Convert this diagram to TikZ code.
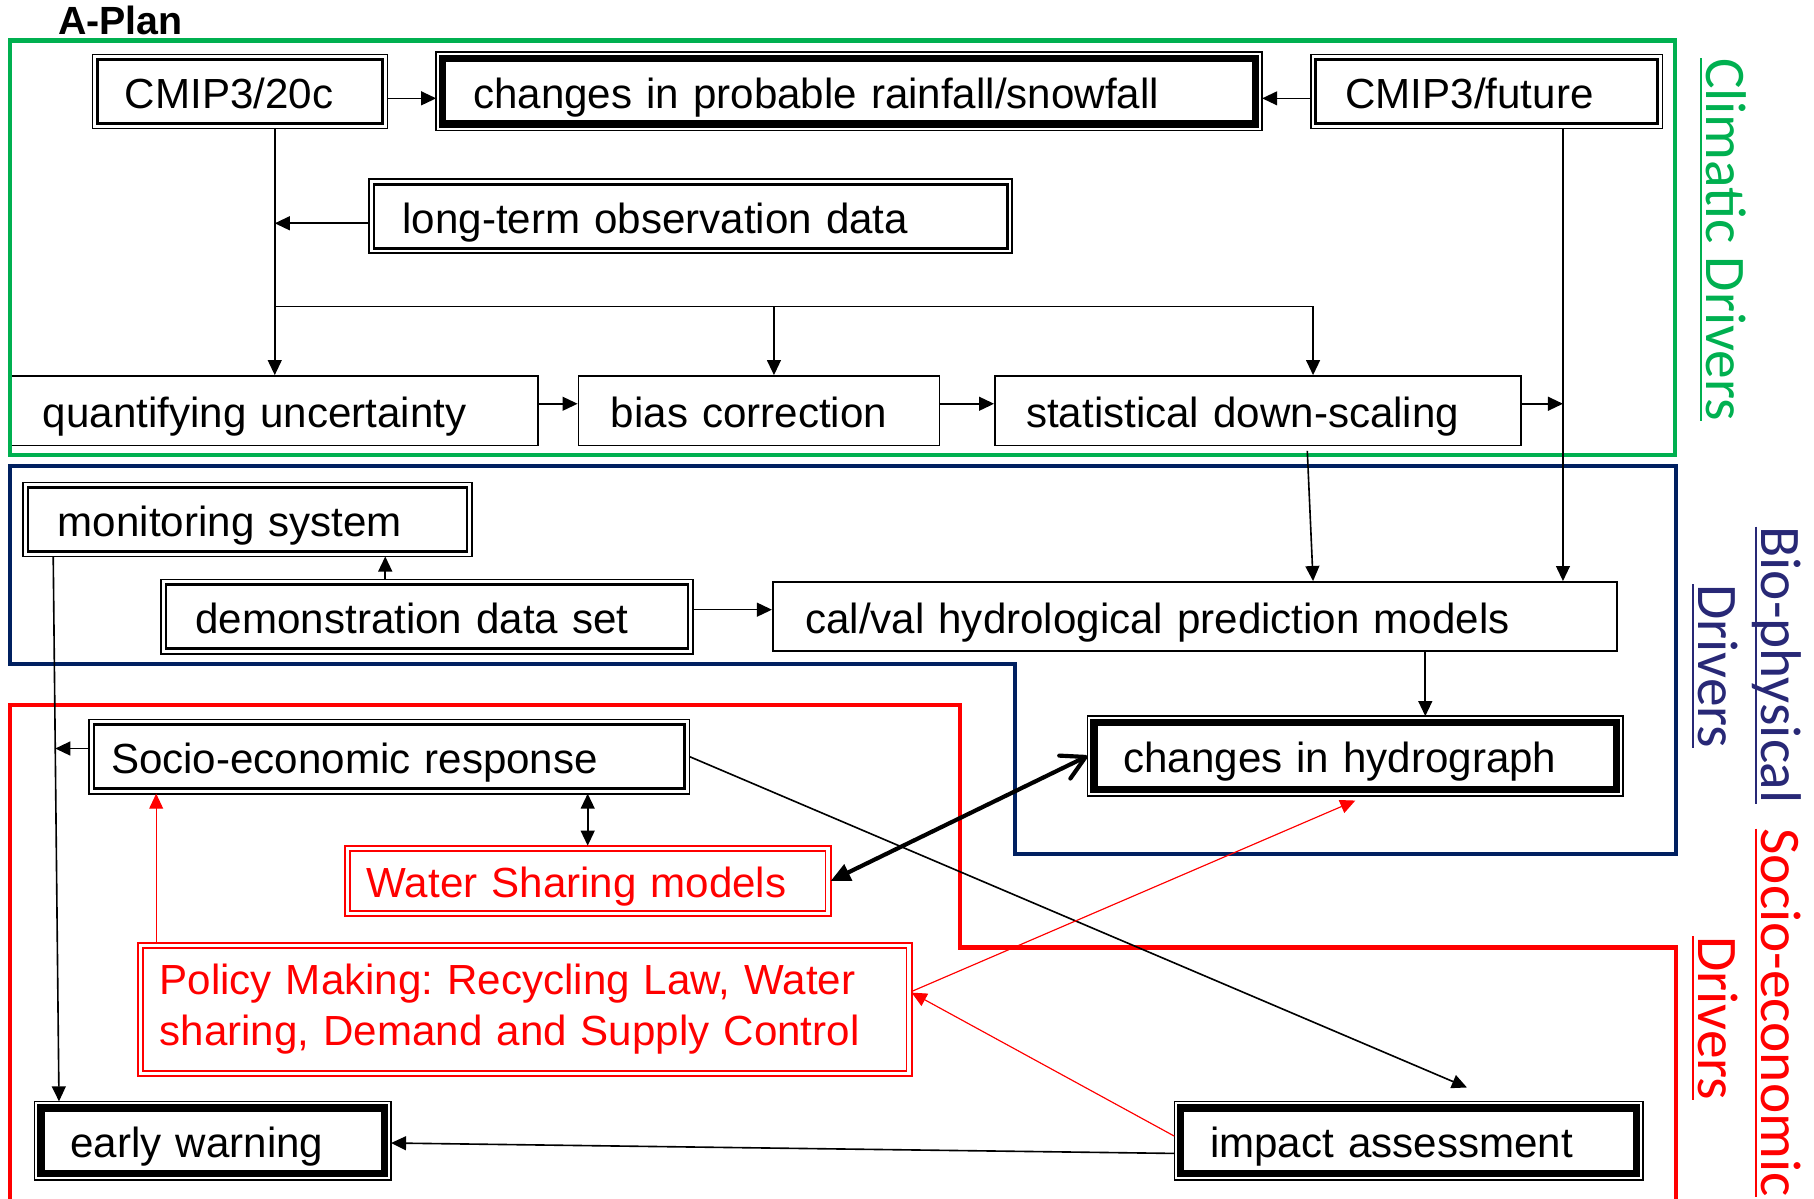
\documentclass[tikz,border=0pt]{standalone}
\usepackage{fontspec}
\setmainfont{Liberation Sans}
\newfontfamily\carlito{Carlito}
\usetikzlibrary{arrows.meta,calc}
\frenchspacing

\definecolor{cgreen}{RGB}{0,176,80}
\definecolor{cnavy}{RGB}{0,32,96}
\definecolor{clabelnavy}{RGB}{40,40,118}
\definecolor{cred}{RGB}{255,0,0}

% underline that crosses the descenders, as in the side captions
\newcommand\capul[1]{\setbox0=\hbox{#1}\rlap{\rule[-5.9pt]{\wd0}{1.8pt}}\box0}

\tikzset{
  every node/.style={font=\fontsize{36.4}{44}\selectfont, inner ysep=0pt},
  oneline/.style={text height=29pt, text depth=0pt, align=left},
  sbox/.style={oneline, draw, line width=1.5pt, fill=white, outer sep=0.75pt},
  dbox/.style={oneline, draw, line width=2.2pt, fill=white, outer sep=4.3pt},
  tbox/.style={oneline, draw, line width=6.5pt, fill=white, outer sep=5.6pt},
  rbox/.style={draw=cred, text=cred, line width=1.6pt, double=white,
               double distance=2.8pt, fill=white, outer sep=2.2pt, align=left},
  tip/.tip={Triangle[length=13pt,width=12pt]},
  arr/.style={line width=1.4pt, -tip},
  biarr/.style={line width=1.4pt, tip-tip},
  redarr/.style={draw=cred, fill=cred, line width=1pt, -tip},
  heavy/.style={line width=3.6pt,
    {Triangle[length=17pt,width=15pt]}-{Straight Barb[length=20pt,width=22pt,round]}},
  region/.style={line width=3.5pt, line join=miter},
  sidecap/.style={rotate=-90, anchor=base west, inner sep=0pt,
                  font=\carlito\fontsize{49.6}{55}\selectfont},
}

\begin{document}
\begin{tikzpicture}[x=1pt, y=-1pt]
\useasboundingbox (0,0) rectangle (1568,1036);
\clip (0,0) rectangle (1568,1036);

% ---------- boxes ----------
\node[dbox, minimum height=55.4pt, inner xsep=23.7pt, text width=199pt] (c20) at (207.5,79) {CMIP3/20c};
\node[tbox, minimum height=56.8pt, inner xsep=26.4pt, text width=650pt] (rain) at (734,79) {changes in probable rainfall/snowfall};
\node[dbox, minimum height=55.4pt, inner xsep=25.7pt, text width=244pt] (cfut) at (1285,79) {CMIP3/future};
\node[dbox, minimum height=55.4pt, inner xsep=24.7pt, text width=498pt] (lterm) at (597,187) {long-term observation data};

\node[sbox, minimum height=60pt, inner xsep=27pt, text width=401pt] (quant) at (237.5,355) {quantifying uncertainty};
\node[sbox, minimum height=60pt, inner xsep=28pt, text width=256pt] (bias) at (656,355) {bias correction};
\node[sbox, minimum height=60pt, inner xsep=27pt, text width=401pt] (stat) at (1087.5,355) {statistical down-scaling};

\node[dbox, minimum height=55.4pt, inner xsep=25.7pt, text width=328pt] (mon) at (214,449) {monitoring system};
\node[dbox, minimum height=55.4pt, inner xsep=25.7pt, text width=400pt] (demo) at (369,533) {demonstration data set};
\node[sbox, minimum height=60pt, inner xsep=28pt, text width=674pt] (calval) at (1033,533) {cal/val hydrological prediction models};
\node[tbox, minimum height=57.8pt, inner xsep=25.4pt, text width=401pt] (hydro) at (1171.5,653.5) {changes in hydrograph};

\node[dbox, minimum height=55.4pt, inner xsep=14.7pt, text width=481pt] (socio) at (336.5,654) {Socio-economic response};
\node[rbox, oneline, minimum height=56.6pt, inner xsep=16.8pt, text width=382pt] (wsm) at (508,761.5) {Water Sharing models};
\node[rbox, minimum height=110.6pt, inner xsep=16.8pt, text width=631pt] (policy) at (453.5,872.5)
  {Policy Making: Recycling Law, Water\\sharing, Demand and Supply Control};
\node[tbox, minimum height=56.8pt, inner xsep=25.4pt, text width=246pt] (ew) at (184,986) {early warning};
\node[tbox, minimum height=56.8pt, inner xsep=25.4pt, text width=343pt] (impact) at (1217.5,986) {impact assessment};

% outer rims of the framed boxes
\foreach \n in {c20,cfut,lterm,mon,demo,socio}
  \draw[line width=1.5pt] (\n.south west) rectangle (\n.north east);
\foreach \n in {rain,hydro,ew,impact}
  \draw[line width=1.3pt] (\n.south west) rectangle (\n.north east);

% ---------- driver regions ----------
\draw[region, cgreen] (9,35) rectangle (1448,393);
\draw[region, cnavy] (9,403) -- (1449,403) -- (1449,738) -- (877,738) -- (877,574) -- (9,574) -- cycle;
\draw[region, cred] (9,1060) -- (9,609) -- (830,609) -- (830,819) -- (1449,819) -- (1449,1060);

% ---------- climatic connectors ----------
\draw[arr] ([yshift=-6pt]c20.east) -- ([yshift=-6pt]rain.west);
\draw[arr] ([yshift=-6pt]cfut.west) -- ([yshift=-6pt]rain.east);
\draw[arr] (quant.north |- c20.south) -- (quant.north);
\coordinate (ltout) at ([yshift=-6pt]lterm.west);
\draw[arr] (ltout) -- (ltout -| quant.north);
\coordinate (hsplit) at (237.5,265);
\coordinate (statin) at ([xshift=47.5pt]stat.north);
\coordinate (biasin) at ([xshift=13pt]bias.north);
\draw[arr] (hsplit) -| (statin);
\draw[arr] (biasin |- hsplit) -- (biasin);
\draw[arr] ([yshift=6pt]quant.east) -- ([yshift=6pt]bias.west);
\draw[arr] ([yshift=6pt]bias.east) -- ([yshift=6pt]stat.west);
\coordinate (futdrop) at ([xshift=66pt]cfut.south);
\draw[arr] (futdrop) -- (futdrop |- calval.north);
\coordinate (statout) at ([yshift=6pt]stat.east);
\draw[arr] (statout) -- (statout -| futdrop);
\draw[arr] ([xshift=42.5pt,yshift=-4pt]stat.south) -- ([xshift=102pt]calval.north);

% ---------- bio-physical connectors ----------
\coordinate (demoup) at ([xshift=-36pt]demo.north);
\draw[arr] (demoup) -- (demoup |- mon.south);
\coordinate (demoout) at ([yshift=6pt]demo.east);
\draw[arr] (demoout) -- (demoout -| calval.west);
\coordinate (cvdown) at ([xshift=199pt]calval.south);
\draw[arr] (cvdown) -- (cvdown |- hydro.north);

% ---------- socio-economic connectors ----------
\coordinate (mb) at ([xshift=-168pt]mon.south);
\coordinate (et) at ([xshift=-133pt]ew.north);
\draw[arr] (mb) -- (et);
\coordinate (socout) at ([yshift=7pt]socio.west);
\coordinate (tap) at ($(mb)!0.352!(et)$);
\draw[arr] (socout) -- (socout -| tap);
\draw[biarr] (wsm.north |- socio.south) -- (wsm.north);
\draw[arr] (socio.east) -- ([xshift=50.5pt,yshift=12pt]impact.north);
\draw[heavy] (wsm.east) -- (hydro.west);
\draw[arr] ([yshift=-11pt]impact.west) -- ([yshift=-2pt]ew.east);

\coordinate (polup) at ([xshift=-318.5pt]policy.north);
\draw[redarr] (polup) -- (polup |- socio.south);
\draw[redarr] ([yshift=15.5pt]policy.east) -- ([yshift=-4pt]hydro.south);
\draw[redarr] ([yshift=4pt]impact.west) -- ([yshift=14.5pt]policy.east);

% ---------- captions ----------
\node[anchor=base west, inner sep=0pt, font=\bfseries\fontsize{34}{40}\selectfont] (aplan) at (50,30) {A-Plan};
\node[sidecap, text=cgreen] (capclim) at (1475,50) {\capul{Climatic Drivers}};
\node[sidecap, text=clabelnavy] (capbio) at (1523,455) {\capul{Bio-physical}};
\node[sidecap, text=clabelnavy] (capbiob) at (1468,505) {\capul{Drivers}};
\node[sidecap, text=cred] (capsoc) at (1523,716) {\capul{Socio-economic}};
\node[sidecap, text=cred] (capsocb) at (1468,809) {\capul{Drivers}};
\end{tikzpicture}
\end{document}
